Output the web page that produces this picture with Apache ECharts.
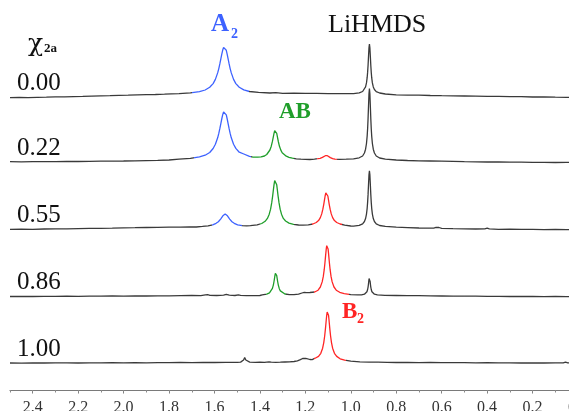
<!DOCTYPE html>
<html>
<head>
<meta charset="utf-8">
<script src="https://cdn.jsdelivr.net/npm/echarts@6/dist/echarts.min.js"></script>
<style>
  html, body { margin: 0; padding: 0; background: #fff; }
  #chart { width: 569px; height: 411px; }
</style>
</head>
<body>
<div id="chart"></div>
<script>
// Chemical shift ticks (ppm) and the mole fraction of each stacked spectrum
const shiftTicks = [0.0, 0.2, 0.4, 0.6, 0.8, 1.0, 1.2, 1.4, 1.6, 1.8, 2.0, 2.2, 2.4];
const chi2a = ['0.00', '0.22', '0.55', '0.86', '1.00'];

// Spectra: [shift (ppm), intensity]
const spec000 = [[2.50,-0.7],[2.46,-0.5],[2.42,-0.6],[2.38,-0.3],[2.34,-0.1],[2.30,0.2],[2.26,0.1],[2.22,0.4],[2.18,0.6],[2.14,0.9],[2.10,1.2],[2.06,1.3],[2.02,1.6],[1.98,1.8],[1.94,2.1],[1.90,2.3],[1.86,2.5],[1.82,2.8],[1.79,3.1],[1.756,3.4],[1.706,4.1],[1.666,5.3],[1.641,7.0],[1.621,9.7],[1.606,13.4],[1.596,17.6],[1.586,24.1],[1.581,28.4],[1.576,33.6],[1.572,38.1],[1.568,42.7],[1.564,46.7],[1.560,49.6],[1.556,50.6],[1.552,49.6],[1.548,46.7],[1.544,42.7],[1.540,38.1],[1.536,33.6],[1.531,28.4],[1.526,24.1],[1.516,17.6],[1.506,13.4],[1.491,9.8],[1.471,7.1],[1.446,5.5],[1.406,4.6],[1.356,4.0],[1.33,4.3],[1.30,3.7],[1.25,3.9],[1.20,3.6],[1.15,3.7],[1.10,3.4],[1.05,3.3],[1.00,3.3],[0.988,3.4],[0.963,4.1],[0.948,5.5],[0.940,7.5],[0.935,10.1],[0.931,14.1],[0.928,19.3],[0.926,24.6],[0.924,31.7],[0.922,40.6],[0.920,49.1],[0.918,52.8],[0.916,49.1],[0.914,40.6],[0.912,31.7],[0.910,24.6],[0.908,19.3],[0.905,14.1],[0.901,10.1],[0.896,7.5],[0.888,5.4],[0.873,4.0],[0.848,3.0],[0.80,2.2],[0.75,1.9],[0.70,1.8],[0.65,1.5],[0.60,1.3],[0.55,1.2],[0.50,1.0],[0.45,0.8],[0.40,0.6],[0.35,0.6],[0.30,0.3],[0.25,0.3],[0.20,0.0],[0.15,0.1],[0.10,-0.2],[0.05,-0.3],[0.00,-0.5]];

const spec022 = [[2.50,0.3],[2.45,0.1],[2.40,0.3],[2.35,0.4],[2.30,0.3],[2.25,0.6],[2.20,0.5],[2.15,0.7],[2.10,0.8],[2.05,0.9],[2.00,1.0],[1.95,1.2],[1.90,1.4],[1.85,1.6],[1.80,2.0],[1.756,2.9],[1.706,3.7],[1.666,5.1],[1.641,6.8],[1.621,9.5],[1.606,13.5],[1.596,17.7],[1.586,24.2],[1.581,28.6],[1.576,33.8],[1.572,38.4],[1.568,43.0],[1.564,47.1],[1.560,50.0],[1.556,51.0],[1.552,50.0],[1.548,47.1],[1.544,43.0],[1.540,38.4],[1.536,33.8],[1.531,28.6],[1.526,24.2],[1.516,17.7],[1.506,13.6],[1.491,9.8],[1.471,8.0],[1.446,5.6],[1.43,4.9],[1.41,4.8],[1.395,5.1],[1.38,6.0],[1.37,7.5],[1.362,9.4],[1.356,12.0],[1.350,15.8],[1.345,20.6],[1.341,25.2],[1.338,28.7],[1.335,31.3],[1.332,32.3],[1.329,31.3],[1.326,28.6],[1.323,25.1],[1.319,20.5],[1.314,15.7],[1.308,11.9],[1.302,9.3],[1.294,7.3],[1.284,5.8],[1.272,4.7],[1.257,3.8],[1.24,3.2],[1.22,2.8],[1.20,2.6],[1.18,2.5],[1.16,2.9],[1.145,3.3],[1.135,3.7],[1.125,4.6],[1.118,5.5],[1.112,6.3],[1.108,6.5],[1.103,6.3],[1.097,5.4],[1.09,4.4],[1.08,3.4],[1.07,2.9],[1.05,2.7],[1.02,2.8],[0.988,3.2],[0.963,4.2],[0.948,6.0],[0.940,9.0],[0.935,12.8],[0.931,18.5],[0.928,25.9],[0.926,33.3],[0.924,43.4],[0.922,56.0],[0.920,68.2],[0.918,73.5],[0.916,68.2],[0.914,56.0],[0.912,43.4],[0.910,33.3],[0.908,25.9],[0.905,18.5],[0.901,12.8],[0.896,9.0],[0.888,6.0],[0.873,4.0],[0.848,2.8],[0.80,2.0],[0.75,1.5],[0.70,1.2],[0.65,1.0],[0.60,0.8],[0.55,0.6],[0.50,0.3],[0.45,0.2],[0.40,0.0],[0.35,0.1],[0.30,-0.2],[0.25,-0.1],[0.20,-0.4],[0.15,-0.3],[0.10,-0.5],[0.05,-0.4],[0.00,-0.6]];

const spec055 = [[2.50,-0.4],[2.45,-0.2],[2.40,-0.3],[2.35,0.0],[2.30,0.2],[2.25,0.1],[2.20,0.4],[2.15,0.6],[2.10,0.7],[2.05,0.9],[2.00,1.2],[1.95,1.3],[1.90,1.5],[1.85,1.7],[1.80,1.8],[1.75,1.9],[1.71,2.0],[1.68,2.0],[1.653,2.6],[1.628,3.2],[1.608,4.2],[1.593,5.7],[1.583,7.3],[1.573,9.9],[1.568,11.6],[1.563,13.2],[1.558,14.5],[1.553,15.0],[1.548,14.5],[1.543,13.2],[1.538,11.6],[1.533,9.9],[1.523,7.3],[1.513,5.7],[1.498,4.2],[1.478,3.3],[1.458,3.1],[1.442,3.4],[1.412,4.1],[1.392,5.5],[1.377,7.7],[1.367,10.6],[1.359,14.8],[1.353,19.8],[1.348,26.3],[1.344,32.9],[1.341,38.6],[1.338,44.2],[1.335,48.4],[1.332,50.0],[1.329,48.4],[1.326,44.2],[1.323,38.6],[1.320,32.9],[1.316,26.3],[1.311,19.8],[1.305,14.8],[1.297,10.6],[1.287,8.0],[1.272,5.9],[1.252,4.7],[1.23,4.0],[1.21,3.9],[1.187,4.1],[1.167,5.0],[1.152,6.5],[1.142,8.4],[1.134,11.4],[1.128,15.1],[1.123,19.8],[1.119,24.7],[1.116,28.9],[1.113,33.0],[1.110,36.1],[1.107,37.3],[1.104,36.1],[1.101,33.0],[1.098,28.9],[1.095,24.7],[1.091,19.8],[1.086,15.1],[1.080,11.4],[1.072,8.4],[1.062,6.5],[1.047,5.0],[1.027,3.8],[1.00,3.0],[0.988,2.9],[0.963,3.6],[0.948,5.2],[0.940,7.5],[0.935,10.4],[0.931,14.9],[0.928,20.7],[0.926,26.6],[0.924,34.6],[0.922,44.5],[0.920,54.1],[0.918,58.3],[0.916,54.1],[0.914,44.5],[0.912,34.6],[0.910,26.6],[0.908,20.7],[0.905,14.9],[0.901,10.4],[0.896,7.5],[0.888,5.2],[0.873,3.5],[0.848,2.6],[0.80,1.8],[0.75,1.4],[0.70,1.0],[0.66,0.8],[0.635,0.9],[0.625,1.6],[0.618,2.8],[0.612,1.5],[0.60,0.7],[0.55,0.3],[0.50,0.2],[0.45,0.0],[0.41,0.2],[0.40,0.8],[0.39,0.1],[0.35,-0.3],[0.30,-0.1],[0.25,-0.4],[0.20,-0.3],[0.15,-0.6],[0.10,-0.4],[0.05,-0.7],[0.00,-0.6]];

const spec086 = [[2.50,0.0],[2.45,0.2],[2.40,0.0],[2.35,0.2],[2.30,0.1],[2.25,0.3],[2.20,0.2],[2.15,0.4],[2.10,0.3],[2.05,0.5],[2.00,0.4],[1.95,0.6],[1.90,0.5],[1.85,0.7],[1.80,0.6],[1.75,0.8],[1.70,1.0],[1.66,0.9],[1.64,1.6],[1.63,1.8],[1.62,1.2],[1.59,1.0],[1.56,1.4],[1.548,2.2],[1.535,1.3],[1.51,1.0],[1.495,1.6],[1.485,1.2],[1.46,0.9],[1.43,0.9],[1.40,1.0],[1.39,1.6],[1.37,2.4],[1.358,3.6],[1.350,5.6],[1.345,8.1],[1.341,11.4],[1.338,15.0],[1.336,17.9],[1.334,20.8],[1.332,23.1],[1.330,24.2],[1.328,23.1],[1.326,20.8],[1.324,17.9],[1.322,15.0],[1.319,11.4],[1.315,8.1],[1.310,5.6],[1.302,3.7],[1.29,2.5],[1.27,1.8],[1.25,1.8],[1.23,2.4],[1.215,3.5],[1.205,4.2],[1.195,3.9],[1.18,4.0],[1.159,4.5],[1.144,6.3],[1.134,9.5],[1.126,14.6],[1.121,20.1],[1.117,26.8],[1.114,33.2],[1.112,38.1],[1.110,43.1],[1.108,47.6],[1.106,50.8],[1.104,52.0],[1.102,50.8],[1.100,47.6],[1.098,43.1],[1.096,38.1],[1.094,33.2],[1.091,26.8],[1.087,20.1],[1.082,14.6],[1.074,9.5],[1.064,6.3],[1.049,4.2],[1.029,2.9],[1.00,1.9],[0.97,1.6],[0.953,1.6],[0.940,2.3],[0.933,3.3],[0.929,4.8],[0.926,7.0],[0.924,9.4],[0.9225,12.0],[0.921,15.1],[0.9195,18.0],[0.918,19.2],[0.9165,18.0],[0.915,15.1],[0.9135,12.0],[0.912,9.4],[0.910,7.0],[0.907,4.8],[0.903,3.3],[0.896,2.3],[0.883,1.6],[0.85,1.2],[0.80,1.0],[0.75,0.8],[0.70,0.8],[0.65,0.6],[0.60,0.5],[0.55,0.4],[0.50,0.3],[0.45,0.3],[0.40,0.1],[0.35,0.2],[0.30,0.0],[0.25,0.1],[0.20,0.0],[0.15,-0.1],[0.10,0.0],[0.05,-0.2],[0.00,-0.1]];

const spec100 = [[2.50,0.0],[2.45,-0.1],[2.40,0.1],[2.35,0.0],[2.30,0.2],[2.25,0.1],[2.20,0.0],[2.15,0.2],[2.10,0.1],[2.05,0.3],[2.00,0.2],[1.95,0.3],[1.90,0.2],[1.85,0.4],[1.80,0.3],[1.75,0.5],[1.70,0.4],[1.65,0.6],[1.60,0.5],[1.55,0.6],[1.50,0.6],[1.485,0.9],[1.477,1.6],[1.472,3.0],[1.469,4.8],[1.467,5.4],[1.465,4.8],[1.462,3.0],[1.456,1.5],[1.445,0.9],[1.42,0.7],[1.40,0.8],[1.38,0.7],[1.36,1.2],[1.35,0.9],[1.33,0.7],[1.31,0.8],[1.29,1.0],[1.27,1.2],[1.25,1.5],[1.235,2.2],[1.222,3.4],[1.212,4.5],[1.205,5.0],[1.198,4.7],[1.19,4.0],[1.18,3.5],[1.17,3.4],[1.157,4.8],[1.142,6.6],[1.132,9.7],[1.124,14.8],[1.119,20.4],[1.115,27.0],[1.112,33.4],[1.110,38.3],[1.108,43.2],[1.106,47.7],[1.104,50.9],[1.102,52.1],[1.100,50.9],[1.098,47.7],[1.096,43.2],[1.094,38.3],[1.092,33.4],[1.089,27.0],[1.085,20.4],[1.080,14.8],[1.072,9.7],[1.062,6.6],[1.047,4.2],[1.027,2.8],[1.00,1.8],[0.96,1.2],[0.92,0.9],[0.88,0.8],[0.84,0.6],[0.80,0.5],[0.75,0.6],[0.70,0.4],[0.65,0.5],[0.60,0.3],[0.55,0.4],[0.50,0.3],[0.45,0.2],[0.40,0.3],[0.35,0.1],[0.30,0.2],[0.25,0.0],[0.20,0.1],[0.15,0.0],[0.10,0.2],[0.065,0.1],[0.055,0.9],[0.045,0.2],[0.00,0.1]];

const spectra = [spec000, spec022, spec055, spec086, spec100];

// Shift windows assigned to each species (ppm)
const bandA2 = [[1.45, 1.70], [1.44, 1.69], [1.48, 1.61], null, null];
const bandAB = [null, [1.25, 1.435], [1.25, 1.40], [1.285, 1.375], null];
const bandB2 = [null, [1.06, 1.15], [1.04, 1.17], [1.01, 1.16], [1.02, 1.16]];

// ---- layout & style ----
const baselines = [97, 162, 229, 296.5, 363];
const COLORS = { A2: '#3d62ff', AB: '#1f9e2a', B2: '#ff2424', trace: '#3a3a3a' };
const SERIF = '"Liberation Serif", "DejaVu Serif", serif';
const PLOT_LEFT = 10, PLOT_RIGHT = -9;
const X_MIN = 0, X_MAX = 2.5;

const grids = [], xAxes = [], yAxes = [], series = [], visualMaps = [];

spectra.forEach((data, i) => {
  grids.push({ left: PLOT_LEFT, right: PLOT_RIGHT, top: baselines[i] - 90, height: 100, outerBoundsMode: 'none' });
  xAxes.push({ type: 'value', gridIndex: i, min: X_MIN, max: X_MAX, inverse: true, show: false });
  yAxes.push({ type: 'value', gridIndex: i, min: -10, max: 90, show: false });
  series.push({
    type: 'line', xAxisIndex: i, yAxisIndex: i, data: data,
    symbol: 'none', lineStyle: { width: 1.3 }, animation: false, silent: true
  });
  const pieces = [];
  if (bandA2[i]) pieces.push({ gte: bandA2[i][0], lte: bandA2[i][1], color: COLORS.A2 });
  if (bandAB[i]) pieces.push({ gte: bandAB[i][0], lte: bandAB[i][1], color: COLORS.AB });
  if (bandB2[i]) pieces.push({ gte: bandB2[i][0], lte: bandB2[i][1], color: COLORS.B2 });
  visualMaps.push({
    type: 'piecewise', show: false, dimension: 0, seriesIndex: i,
    pieces: pieces, outOfRange: { color: COLORS.trace }
  });
});

// Shared ppm axis at the bottom
const axisGrid = spectra.length;
grids.push({ left: PLOT_LEFT, right: PLOT_RIGHT, top: 380, height: 10, outerBoundsMode: 'none', containLabel: false });
yAxes.push({ type: 'value', gridIndex: axisGrid, show: false });
xAxes.push({
  type: 'value', gridIndex: axisGrid, position: 'bottom', min: X_MIN, max: X_MAX, inverse: true,
  interval: 0.2,
  axisLine: { show: true, lineStyle: { color: '#7a7a7a', width: 1.2 } },
  axisTick: { show: true, length: 3.5, customValues: shiftTicks, lineStyle: { color: '#7a7a7a' } },
  axisLabel: {
    show: true, customValues: shiftTicks, margin: 10, hideOverlap: false,
    formatter: v => v.toFixed(1),
    fontFamily: SERIF, fontSize: 16, color: '#333'
  },
  splitLine: { show: false }
});
xAxes.push({
  type: 'value', gridIndex: axisGrid, position: 'bottom', min: X_MIN, max: X_MAX, inverse: true,
  interval: 0.1,
  axisLine: { show: false },
  axisTick: { show: true, length: 2.5, lineStyle: { color: '#8a8a8a' } },
  axisLabel: { show: false },
  splitLine: { show: false }
});

// Text annotations
const graphics = [
  { type: 'text', x: 28, y: 44, style: { text: 'χ', font: '25px "DejaVu Serif", serif', fill: '#111', verticalAlign: 'middle' } },
  { type: 'text', x: 44, y: 49, style: { text: '2a', font: 'bold 13px ' + SERIF, fill: '#111', verticalAlign: 'middle' } },
  { type: 'text', x: 211, y: 25, style: { text: 'A', font: 'bold 25px ' + SERIF, fill: COLORS.A2, verticalAlign: 'middle' } },
  { type: 'text', x: 231, y: 34, style: { text: '2', font: 'bold 14px ' + SERIF, fill: COLORS.A2, verticalAlign: 'middle' } },
  { type: 'text', x: 328, y: 25, style: { text: 'LiHMDS', font: '26px ' + SERIF, fill: '#111', verticalAlign: 'middle' } },
  { type: 'text', x: 279, y: 112, style: { text: 'AB', font: 'bold 23px ' + SERIF, fill: COLORS.AB, verticalAlign: 'middle' } },
  { type: 'text', x: 342, y: 312, style: { text: 'B', font: 'bold 23px ' + SERIF, fill: COLORS.B2, verticalAlign: 'middle' } },
  { type: 'text', x: 357, y: 319, style: { text: '2', font: 'bold 14px ' + SERIF, fill: COLORS.B2, verticalAlign: 'middle' } }
];
chi2a.forEach((t, i) => {
  graphics.push({
    type: 'text', x: 17, y: baselines[i] - 14,
    style: { text: t, font: '25px ' + SERIF, fill: '#111', verticalAlign: 'middle' }
  });
});

const chart = echarts.init(document.getElementById('chart'), null, { renderer: 'canvas' });
chart.setOption({
  animation: false,
  backgroundColor: '#fff',
  grid: grids,
  xAxis: xAxes,
  yAxis: yAxes,
  visualMap: visualMaps,
  series: series,
  graphic: graphics
});
</script>
</body>
</html>
